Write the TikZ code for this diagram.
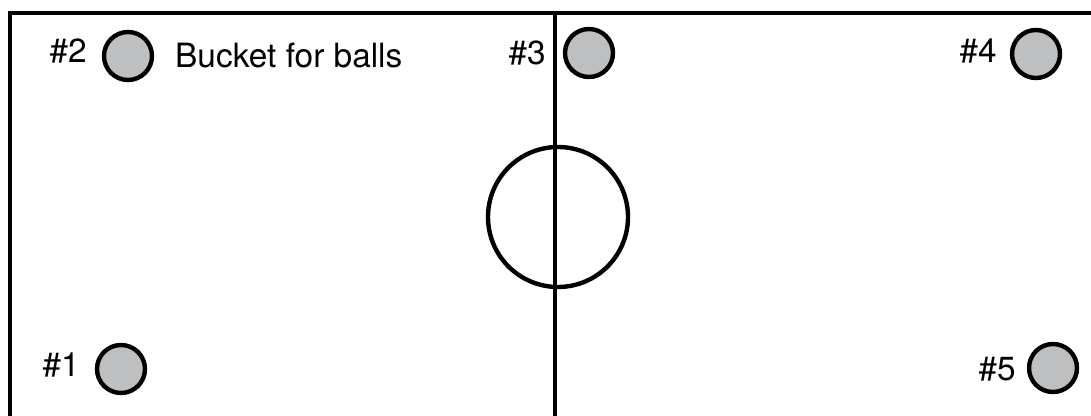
\documentclass[tikz,border=0pt]{standalone}
\usepackage{fontspec}
\setmainfont{TeX Gyre Heros}
\usetikzlibrary{positioning}

\definecolor{ballgray}{RGB}{190,191,193}

\begin{document}
\begin{tikzpicture}[
    x=1pt, y=1pt,
    field/.style={line width=4.4pt},
    ball/.style={circle, draw, line width=4.4pt, fill=ballgray, minimum size=48pt, inner sep=0pt},
    lbl/.style={font=\fontsize{33.4}{40}\selectfont, inner sep=0pt, anchor=base east}
]
\useasboundingbox (0,0) rectangle (1091,415);
\clip (0,0) rectangle (1091,415);

% Spielfeld
\draw[field] (10,-10) -- (10,402) -- (1100,402);
\draw[field] (555,-10) -- (555,402);
\node[circle, draw, line width=4.4pt, minimum size=140pt, inner sep=0pt] (mid) at (558,198) {};

% Baelle
\node[ball] (b1) at (121,46) {};
\node[ball] (b2) at (128,359) {};
\node[ball] (b3) at (589,362) {};
\node[ball] (b4) at (1036,361) {};
\node[ball] (b5) at (1053,47) {};

% Beschriftung
\node[lbl] (l1) at (80,39) {\#1};
\node[lbl] (l2) at (87,352) {\#2};
\node[lbl] (l3) at (546,350) {\#3};
\node[lbl] (l4) at (997,352) {\#4};
\node[lbl] (l5) at (1016,35) {\#5};
\node[lbl, anchor=base west] (bucket) at (175,347) {Bucket for balls};
\end{tikzpicture}
\end{document}
